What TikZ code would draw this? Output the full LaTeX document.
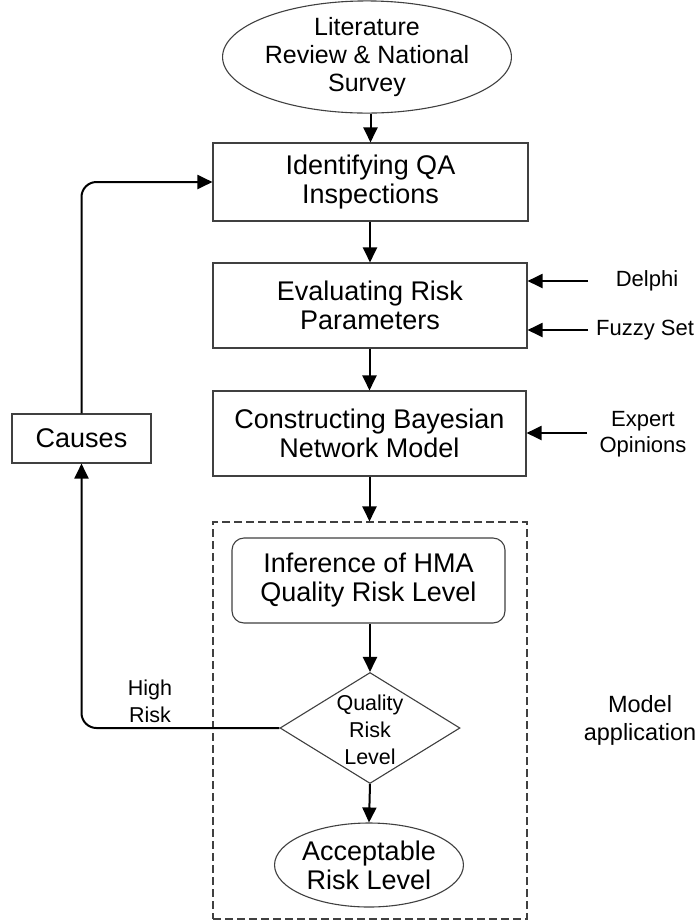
\documentclass[tikz,border=0pt]{standalone}
\usepackage{fontspec}
\setmainfont{Liberation Sans}
\usetikzlibrary{shapes.geometric,arrows.meta}

\newcommand\bxfont{\fontsize{27}{29}\selectfont}
\newcommand\elfont{\fontsize{25}{28}\selectfont}
\newcommand\sdfont{\fontsize{22}{26}\selectfont}
\newcommand\dmfont{\fontsize{21.5}{27}\selectfont}

\begin{document}
\begin{tikzpicture}[x=1pt,y=-1pt,
  outline/.style={draw=black!75, line width=1.1pt, fill=white},
  stepbox/.style={outline, rectangle, inner sep=0pt, align=center, font=\bxfont},
  terminal/.style={outline, ellipse, inner sep=0pt, align=center},
  decision/.style={outline, diamond, inner sep=0pt},
  plain/.style={inner sep=0pt, align=center},
  conn/.style={line width=2pt, -{Triangle[length=15pt,width=14pt]}},
]
\useasboundingbox (0,0) rectangle (700,922);

% main flow
\node[terminal, font=\elfont, minimum width=230pt, minimum height=100pt]
  (lit) at (367,57) {Literature\\Review \& National\\Survey};
\node[stepbox, minimum width=315pt, minimum height=78pt]
  (ident) at (370.5,182) {Identifying QA\\Inspections};
\node[stepbox, minimum width=314pt, minimum height=85pt]
  (eval) at (370,305.5) {Evaluating Risk\\Parameters};
\node[stepbox, minimum width=313pt, minimum height=85pt]
  (bn) at (369.5,433.5) {Constructing Bayesian\\Network Model};

% model application frame
\node[draw=black!75, line width=1.1pt, dash pattern=on 8pt off 4pt,
  rectangle, minimum width=314pt, minimum height=397pt, inner sep=0pt]
  (appbox) at (370,720.5) {};
\node[stepbox, rounded corners=12pt, minimum width=273pt, minimum height=85pt]
  (infer) at (368.5,580.5) {Inference of HMA\\Quality Risk Level};
\node[decision, minimum width=180pt, minimum height=111pt]
  (qrl) at (370,728) {};
\node[plain, font=\dmfont] (qrltext) at (370,730) {Quality\\Risk\\Level};
\node[terminal, font=\bxfont, minimum width=186pt, minimum height=84pt]
  (accept) at (369,865) {Acceptable\\Risk Level};

% feedback box
\node[stepbox, minimum width=139pt, minimum height=49pt]
  (causes) at (81.5,438.5) {Causes};

% side labels
\node[plain, font=\sdfont] (delphi) at (647,281) {Delphi};
\node[plain, font=\sdfont] (fuzzy) at (645,330) {Fuzzy Set};
\node[plain, font=\sdfont] (expert) at (643,434) {Expert\\Opinions};
\node[plain, font=\dmfont] (high) at (150,701.5) {High\\Risk};
\node[plain, font=\fontsize{23.5}{28}\selectfont] (modelapp) at (640,720) {Model\\application};

\coordinate (delphiin) at (588,281);
\coordinate (fuzzyin) at (588,330);
\coordinate (expertin) at (587,433);

% connectors
\draw[conn] (lit.south -| ident.north) -- (ident.north);
\draw[conn] (ident.south -| eval.north) -- (eval.north);
\draw[conn] (eval.south -| bn.north) -- (bn.north);
\draw[conn] (bn.south) -- (bn.south |- appbox.north);
\draw[conn] (infer.south -| qrl.north) -- (qrl.north);
\draw[conn] (qrl.south) -- (accept.north);

\draw[conn, rounded corners=15pt] (qrl.west) -| (causes.south);
\draw[conn, rounded corners=15pt] (causes.north) |- (ident.west);

\draw[conn] (delphiin) -- (delphiin -| eval.east);
\draw[conn] (fuzzyin) -- (fuzzyin -| eval.east);
\draw[conn] (expertin) -- (expertin -| bn.east);
\end{tikzpicture}
\end{document}
